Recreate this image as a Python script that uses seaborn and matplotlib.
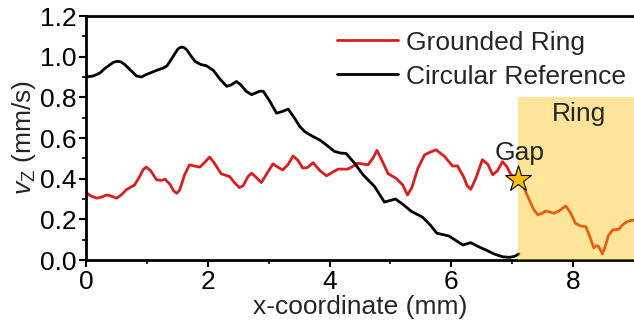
import numpy as np
import pandas as pd
import matplotlib
matplotlib.use("Agg")
import matplotlib.pyplot as plt
import seaborn as sns

# ---- data ----
black_x = [0.00, 0.12, 0.23, 0.30, 0.37, 0.45, 0.51, 0.57, 0.63, 0.75, 0.83, 0.91, 0.99, 1.08, 1.18, 1.27, 1.33,
           1.38, 1.46, 1.51, 1.56, 1.61, 1.66, 1.72, 1.79, 1.88, 1.98, 2.09, 2.20, 2.31, 2.39, 2.47, 2.54,
           2.63, 2.72, 2.79, 2.85, 2.91, 3.02, 3.13, 3.22, 3.32, 3.42, 3.51, 3.59, 3.70, 3.84, 3.96, 4.08,
           4.18, 4.27, 4.40, 4.55, 4.74, 4.90, 4.99, 5.08, 5.20, 5.34, 5.53, 5.66, 5.76, 5.96, 6.08, 6.19,
           6.32, 6.45, 6.57, 6.70, 6.84, 6.95, 7.04, 7.11]
black_y = [0.900, 0.905, 0.920, 0.940, 0.955, 0.972, 0.977, 0.975, 0.963, 0.928, 0.905, 0.900, 0.912, 0.923, 0.935,
           0.944, 0.955, 0.977, 1.015, 1.038, 1.047, 1.045, 1.032, 1.005, 0.977, 0.962, 0.955, 0.933, 0.890,
           0.854, 0.862, 0.878, 0.862, 0.830, 0.813, 0.822, 0.830, 0.830, 0.780, 0.722, 0.730, 0.742, 0.700,
           0.657, 0.632, 0.612, 0.590, 0.563, 0.534, 0.526, 0.524, 0.480, 0.419, 0.361, 0.285, 0.292, 0.300,
           0.275, 0.240, 0.210, 0.170, 0.132, 0.118, 0.095, 0.074, 0.085, 0.065, 0.049, 0.030, 0.016, 0.013,
           0.018, 0.030]

red_x = [0.00, 0.08, 0.18, 0.26, 0.34, 0.42, 0.50, 0.58, 0.66, 0.80, 0.88, 0.94, 0.99, 1.06, 1.16, 1.24, 1.30,
         1.38, 1.44, 1.49, 1.54, 1.62, 1.70, 1.78, 1.87, 1.95, 2.03, 2.10, 2.22, 2.36, 2.44, 2.52, 2.58,
         2.66, 2.72, 2.80, 2.88, 2.96, 3.07, 3.16, 3.23, 3.32, 3.40, 3.48, 3.56, 3.64, 3.73, 3.84, 3.95,
         4.05, 4.14, 4.30, 4.39, 4.46, 4.55, 4.63, 4.71, 4.78, 4.86, 4.96, 5.09, 5.20, 5.28, 5.35, 5.45,
         5.56, 5.65, 5.75, 5.89, 6.02, 6.10, 6.20, 6.26, 6.32, 6.40, 6.51, 6.60, 6.68, 6.76, 6.84, 6.91,
         6.98, 7.05, 7.11, 7.20, 7.28, 7.35, 7.42, 7.48, 7.55, 7.69, 7.76, 7.88, 7.96, 8.04, 8.12, 8.21,
         8.28, 8.34, 8.38, 8.41, 8.45, 8.48, 8.52, 8.58, 8.65, 8.75, 8.82, 8.89, 8.95, 9.00]
red_y = [0.332, 0.315, 0.304, 0.310, 0.320, 0.314, 0.304, 0.320, 0.345, 0.370, 0.410, 0.445, 0.457, 0.440, 0.394,
         0.392, 0.397, 0.372, 0.340, 0.328, 0.345, 0.420, 0.468, 0.462, 0.457, 0.480, 0.506, 0.480, 0.424,
         0.410, 0.380, 0.356, 0.365, 0.410, 0.427, 0.405, 0.381, 0.420, 0.473, 0.455, 0.443, 0.470, 0.512,
         0.490, 0.452, 0.455, 0.479, 0.440, 0.414, 0.432, 0.447, 0.447, 0.462, 0.476, 0.472, 0.468, 0.500,
         0.539, 0.490, 0.425, 0.402, 0.370, 0.320, 0.355, 0.450, 0.517, 0.530, 0.542, 0.509, 0.462, 0.463,
         0.410, 0.365, 0.348, 0.400, 0.493, 0.470, 0.419, 0.440, 0.484, 0.460, 0.419, 0.412, 0.405, 0.350,
         0.296, 0.250, 0.222, 0.228, 0.241, 0.230, 0.240, 0.266, 0.230, 0.180, 0.168, 0.164, 0.110, 0.060,
         0.070, 0.069, 0.050, 0.030, 0.060, 0.120, 0.148, 0.151, 0.175, 0.189, 0.195, 0.195]

series_names = ["Grounded Ring", "Circular Reference"]
x_ticks = [0, 2, 4, 6, 8]
y_ticks = [0.0, 0.2, 0.4, 0.6, 0.8, 1.0, 1.2]
ring_start, ring_end, ring_top = 7.1, 9.0, 0.80
gap_x, gap_y = 7.1, 0.40

df = pd.concat([
    pd.DataFrame({"x": red_x, "y": red_y, "series": series_names[0]}),
    pd.DataFrame({"x": black_x, "y": black_y, "series": series_names[1]}),
], ignore_index=True)

sns.set_theme(style="ticks")
plt.rcParams["font.family"] = ["Liberation Sans", "DejaVu Sans"]
plt.rcParams["mathtext.fontset"] = "custom"
plt.rcParams["mathtext.rm"] = "Liberation Sans"
plt.rcParams["mathtext.it"] = "Liberation Sans:italic"

FS = 19

fig = plt.figure(figsize=(6.34, 3.28), dpi=100)
ax = fig.add_axes([86 / 634, 68 / 328, 548 / 634, 244 / 328])

sns.lineplot(data=df, x="x", y="y", hue="series", hue_order=series_names,
             palette=["#D81E1E", "#000000"], estimator=None, sort=False,
             linewidth=2.0, ax=ax, zorder=2)

# shaded ring region (drawn over the line so it tints it orange)
ax.fill_between([ring_start, ring_end], 0, ring_top, color="#FFC000", alpha=0.40,
                linewidth=0, zorder=3)
ax.plot([gap_x], [gap_y], marker="*", markersize=20, color="#FFC000",
        markeredgecolor="black", markeredgewidth=0.8, zorder=5, clip_on=False)
ax.text(gap_x + 0.02, 0.49, "Gap", ha="center", va="baseline", fontsize=FS, zorder=6)
ax.text(8.1, 0.72, "Ring", ha="center", va="center", fontsize=FS, zorder=6)

ax.set_xlim(0, 9)
ax.set_ylim(0, 1.2)
ax.set_xticks(x_ticks)
ax.set_xticks([1, 3, 5, 7], minor=True)
ax.set_yticks(y_ticks)
ax.set_yticks(np.arange(0.1, 1.2, 0.2), minor=True)
ax.set_yticklabels([f"{v:.1f}" for v in y_ticks])
ax.tick_params(axis="both", which="major", direction="out", length=5, width=1.5,
               labelsize=FS, pad=2, color="black", labelcolor="black")
ax.tick_params(axis="both", which="minor", direction="out", length=3, width=1.2, color="black")
ax.tick_params(top=False, right=False, which="both")

for s in ["left", "bottom", "top"]:
    ax.spines[s].set_linewidth(2.0)
    ax.spines[s].set_color("black")
ax.spines["right"].set_visible(False)

ax.set_xlabel("x-coordinate (mm)", fontsize=FS, labelpad=1)
ax.set_ylabel(r"$v_{\mathrm{Z}}$ (mm/s)", fontsize=FS, labelpad=1)

ax.legend(loc="upper left", bbox_to_anchor=(0.458, 0.94), frameon=False, fontsize=FS,
          handlelength=2.3, handletextpad=0.3, labelspacing=0.38, borderpad=0,
          borderaxespad=0)

fig.savefig("out.png", dpi=100)
